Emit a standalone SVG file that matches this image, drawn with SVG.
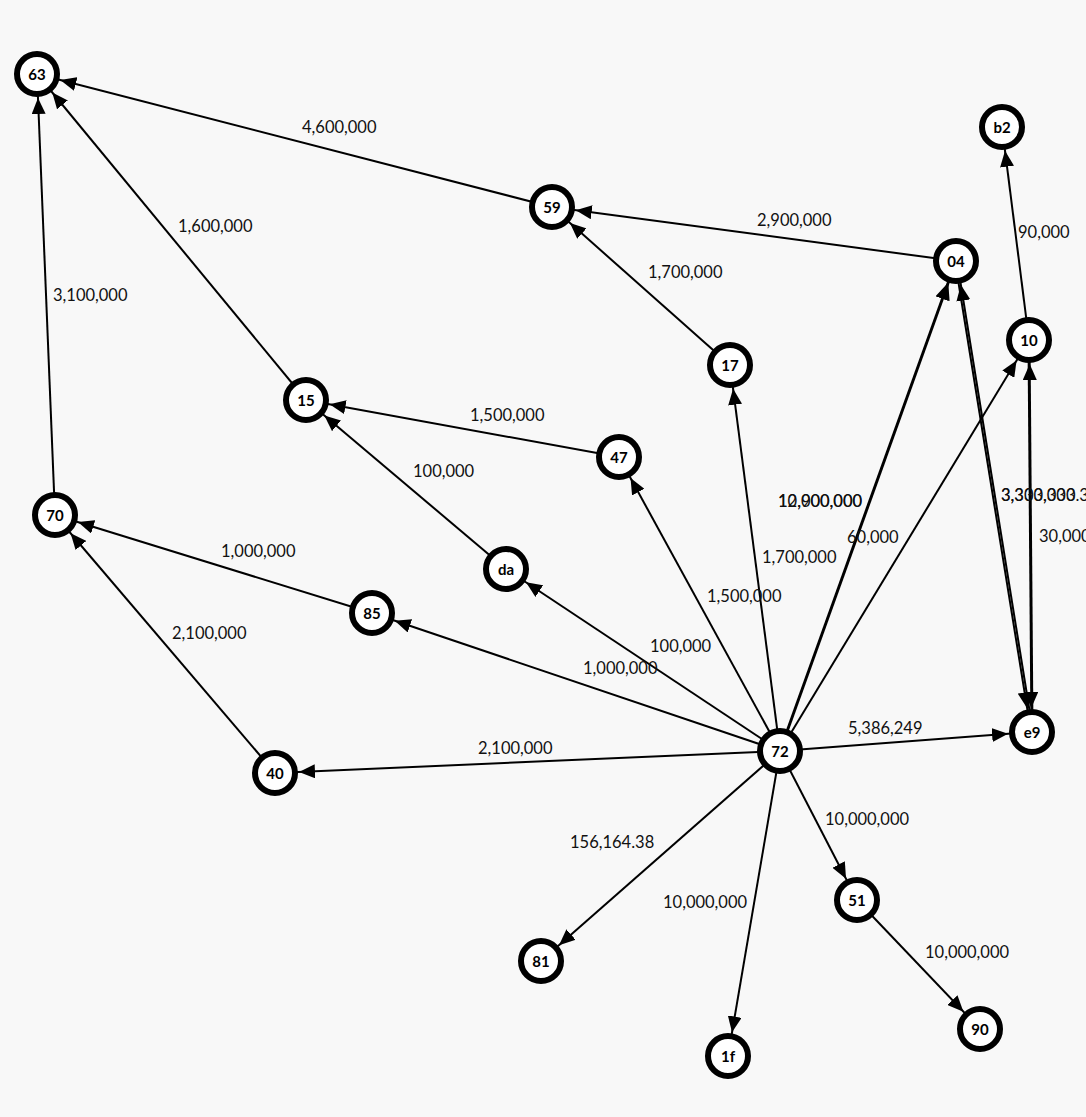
<svg xmlns="http://www.w3.org/2000/svg" width="1086" height="1117" viewBox="0 0 1086 1117">
<style>
.bg{fill:#f8f8f8}
.edge{stroke:#000;stroke-width:2;fill:none;marker-end:url(#arrow)}
.node circle{fill:#fff;stroke:#000;stroke-width:6}
.node text{font-family:Lato,"Liberation Sans",sans-serif;font-weight:bold;font-size:15px;fill:#000;text-anchor:middle;dominant-baseline:central}
.lbl{font-family:Lato,"Liberation Sans",sans-serif;font-size:16.5px;fill:#111}
</style>
<defs>
<marker id="arrow" markerUnits="userSpaceOnUse" viewBox="0 -7 16 14" markerWidth="16" markerHeight="14" refX="40" refY="0" orient="auto">
<path d="M0,-7 L16,0 L0,7 Z" fill="#000"/>
</marker>
</defs>
<rect class="bg" x="0" y="0" width="1086" height="1117"/>
<g id="connectors">
<line class="edge" x1="552" y1="207" x2="37" y2="74"/>
<line class="edge" x1="306" y1="400" x2="37" y2="74"/>
<line class="edge" x1="55" y1="515" x2="37" y2="74"/>
<line class="edge" x1="956" y1="261" x2="552" y2="207"/>
<line class="edge" x1="730" y1="365" x2="552" y2="207"/>
<line class="edge" x1="1029" y1="340" x2="1002" y2="127"/>
<line class="edge" x1="619" y1="457" x2="306" y2="400"/>
<line class="edge" x1="506" y1="569" x2="306" y2="400"/>
<line class="edge" x1="372" y1="613" x2="55" y2="515"/>
<line class="edge" x1="275" y1="773" x2="55" y2="515"/>
<line class="edge" x1="780" y1="751" x2="730" y2="365"/>
<line class="edge" x1="780" y1="751" x2="619" y2="457"/>
<line class="edge" x1="780" y1="751" x2="506" y2="569"/>
<line class="edge" x1="780" y1="751" x2="372" y2="613"/>
<line class="edge" x1="780" y1="751" x2="275" y2="773"/>
<line class="edge" x1="779.5" y1="751" x2="955.5" y2="261"/>
<line class="edge" x1="780.5" y1="751" x2="956.5" y2="261"/>
<line class="edge" x1="780" y1="751" x2="1029" y2="340"/>
<line class="edge" x1="780" y1="751" x2="1032" y2="732"/>
<line class="edge" x1="955" y1="261" x2="1031" y2="732"/>
<line class="edge" x1="1033" y1="732" x2="957" y2="261"/>
<line class="edge" x1="1028.5" y1="340" x2="1031.5" y2="732"/>
<line class="edge" x1="1032.5" y1="732" x2="1029.5" y2="340"/>
<line class="edge" x1="780" y1="751" x2="857" y2="900"/>
<line class="edge" x1="857" y1="900" x2="980" y2="1029"/>
<line class="edge" x1="780" y1="751" x2="541" y2="961"/>
<line class="edge" x1="780" y1="751" x2="728" y2="1056"/>
</g>
<g id="edge-labels">
<text class="lbl" x="302" y="133">4,600,000</text>
<text class="lbl" x="178" y="232">1,600,000</text>
<text class="lbl" x="53" y="301">3,100,000</text>
<text class="lbl" x="757" y="226">2,900,000</text>
<text class="lbl" x="648" y="278">1,700,000</text>
<text class="lbl" x="1018" y="238">90,000</text>
<text class="lbl" x="470" y="421">1,500,000</text>
<text class="lbl" x="413" y="477">100,000</text>
<text class="lbl" x="221" y="557">1,000,000</text>
<text class="lbl" x="172" y="639">2,100,000</text>
<text class="lbl" x="762" y="563">1,700,000</text>
<text class="lbl" x="707" y="602">1,500,000</text>
<text class="lbl" x="650" y="652">100,000</text>
<text class="lbl" x="583" y="674">1,000,000</text>
<text class="lbl" x="478" y="754">2,100,000</text>
<text class="lbl" x="778" y="507">10,900,000</text>
<text class="lbl" x="778" y="507">12,000,000</text>
<text class="lbl" x="847" y="543">60,000</text>
<text class="lbl" x="848" y="734">5,386,249</text>
<text class="lbl" x="1001" y="501">3,333,333.33</text>
<text class="lbl" x="1001" y="501">3,300,000</text>
<text class="lbl" x="1039" y="542">30,000</text>
<text class="lbl" x="825" y="825">10,000,000</text>
<text class="lbl" x="925" y="958">10,000,000</text>
<text class="lbl" x="570" y="848">156,164.38</text>
<text class="lbl" x="663" y="908">10,000,000</text>
</g>
<g id="node-63" class="node"><circle cx="37" cy="74" r="20"/><text x="37" y="74">63</text></g>
<g id="node-b2" class="node"><circle cx="1002" cy="127" r="20"/><text x="1002" y="127">b2</text></g>
<g id="node-59" class="node"><circle cx="552" cy="207" r="20"/><text x="552" y="207">59</text></g>
<g id="node-04" class="node"><circle cx="956" cy="261" r="20"/><text x="956" y="261">04</text></g>
<g id="node-10" class="node"><circle cx="1029" cy="340" r="20"/><text x="1029" y="340">10</text></g>
<g id="node-17" class="node"><circle cx="730" cy="365" r="20"/><text x="730" y="365">17</text></g>
<g id="node-15" class="node"><circle cx="306" cy="400" r="20"/><text x="306" y="400">15</text></g>
<g id="node-47" class="node"><circle cx="619" cy="457" r="20"/><text x="619" y="457">47</text></g>
<g id="node-70" class="node"><circle cx="55" cy="515" r="20"/><text x="55" y="515">70</text></g>
<g id="node-da" class="node"><circle cx="506" cy="569" r="20"/><text x="506" y="569">da</text></g>
<g id="node-85" class="node"><circle cx="372" cy="613" r="20"/><text x="372" y="613">85</text></g>
<g id="node-72" class="node"><circle cx="780" cy="751" r="20"/><text x="780" y="751">72</text></g>
<g id="node-e9" class="node"><circle cx="1032" cy="732" r="20"/><text x="1032" y="732">e9</text></g>
<g id="node-40" class="node"><circle cx="275" cy="773" r="20"/><text x="275" y="773">40</text></g>
<g id="node-51" class="node"><circle cx="857" cy="900" r="20"/><text x="857" y="900">51</text></g>
<g id="node-81" class="node"><circle cx="541" cy="961" r="20"/><text x="541" y="961">81</text></g>
<g id="node-1f" class="node"><circle cx="728" cy="1056" r="20"/><text x="728" y="1056">1f</text></g>
<g id="node-90" class="node"><circle cx="980" cy="1029" r="20"/><text x="980" y="1029">90</text></g>
</svg>
